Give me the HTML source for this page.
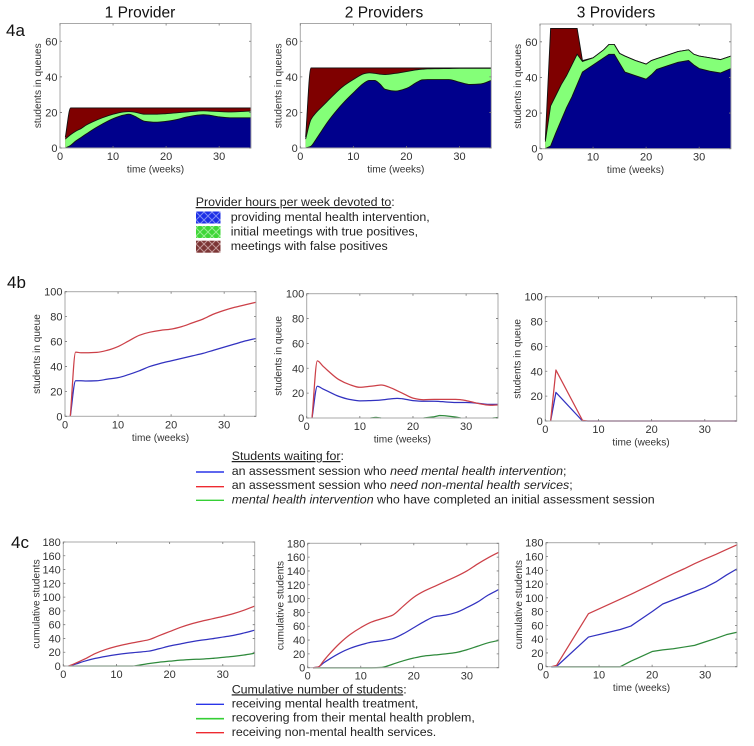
<!DOCTYPE html>
<html lang="en">
<head>
<meta charset="utf-8">
<title>Provider queue simulation charts</title>
<style>
html,body{margin:0;padding:0;background:#fff;width:754px;height:746px;overflow:hidden}
svg{display:block;filter:blur(0.35px)}
text{font-family:"Liberation Sans",sans-serif;fill:#2c2c2c}
.tick{font-size:11px;fill:#333}
.axis-title{font-size:10.1px;fill:#333}
.title{font-size:15.5px;fill:#111}
.section{font-size:17px;fill:#111}
.legend{font-size:12.4px;fill:#222}
</style>
</head>
<body>
<svg id="figure" xmlns="http://www.w3.org/2000/svg" width="754" height="746" viewBox="0 0 754 746">
<defs>
<pattern id="hatch-blue" width="8" height="8" patternUnits="userSpaceOnUse"><rect width="8" height="8" fill="#1c2fe6"/><path d="M0 0L8 8M8 0L0 8" stroke="#7f8cf5" stroke-width="1"/></pattern>
<pattern id="hatch-green" width="8" height="8" patternUnits="userSpaceOnUse"><rect width="8" height="8" fill="#3fd638"/><path d="M0 0L8 8M8 0L0 8" stroke="#98ee90" stroke-width="1"/></pattern>
<pattern id="hatch-maroon" width="8" height="8" patternUnits="userSpaceOnUse"><rect width="8" height="8" fill="#7c3636"/><path d="M0 0L8 8M8 0L0 8" stroke="#c49a9a" stroke-width="1"/></pattern>
</defs>
<rect width="754" height="746" fill="#fff"/>

<text class="title" x="140" y="17.5" text-anchor="middle">1 Provider</text>
<text class="title" x="384" y="17.5" text-anchor="middle">2 Providers</text>
<text class="title" x="616" y="17.5" text-anchor="middle">3 Providers</text>

<text class="section" x="6" y="36">4a</text>
<text class="section" x="7" y="288">4b</text>
<text class="section" x="11" y="548">4c</text>

<g>
<text class="legend" x="195.7" y="206"><tspan text-decoration="underline">Provider hours per week devoted to</tspan>:</text>
<g><rect x="196" y="211.5" width="24.5" height="12" fill="url(#hatch-blue)"/><text class="legend" x="230.7" y="221">providing mental health intervention,</text></g>
<g><rect x="196" y="226" width="24.5" height="12" fill="url(#hatch-green)"/><text class="legend" x="230.7" y="235.5">initial meetings with true positives,</text></g>
<g><rect x="196" y="240.7" width="24.5" height="12" fill="url(#hatch-maroon)"/><text class="legend" x="230.7" y="250">meetings with false positives</text></g>
</g>

<g>
<text class="legend" x="231.7" y="460"><tspan text-decoration="underline">Students waiting for</tspan>:</text>
<g><line x1="196" x2="224" y1="472" y2="472" stroke="#2a35e8" stroke-width="1.4"/><text class="legend" x="231.7" y="475">an assessment session who <tspan font-style="italic">need mental health intervention</tspan>;</text></g>
<g><line x1="196" x2="224" y1="486.7" y2="486.7" stroke="#ee2a30" stroke-width="1.4"/><text class="legend" x="231.7" y="489">an assessment session who <tspan font-style="italic">need non-mental health services</tspan>;</text></g>
<g><line x1="196" x2="224" y1="500.3" y2="500.3" stroke="#35cf35" stroke-width="1.4"/><text class="legend" x="231.7" y="503.5"><tspan font-style="italic">mental health intervention</tspan> who have completed an initial assessment session</text></g>
</g>

<g>
<text class="legend" x="231.7" y="693.3"><tspan text-decoration="underline">Cumulative number of students</tspan>:</text>
<g><line x1="196" x2="224" y1="704.3" y2="704.3" stroke="#2a35e8" stroke-width="1.4"/><text class="legend" x="231.7" y="707.7">receiving mental health treatment,</text></g>
<g><line x1="196" x2="224" y1="718.7" y2="718.7" stroke="#35cf35" stroke-width="1.6"/><text class="legend" x="231.7" y="721.7">recovering from their mental health problem,</text></g>
<g><line x1="196" x2="224" y1="732.7" y2="732.7" stroke="#ee2a30" stroke-width="1.4"/><text class="legend" x="231.7" y="736">receiving non-mental health services.</text></g>
</g>
</svg>

<script>
// ---- Shared axis tick labels ----
const xTicks = [0, 10, 20, 30];
const yTicksA = [0, 20, 40, 60];
const yTicksB = [0, 20, 40, 60, 80, 100];
const yTicksC = [0, 20, 40, 60, 80, 100, 120, 140, 160, 180];

// ---- 4a: stacked queue boundaries (weeks + upper edge of each band) ----
const a1Weeks = [1, 2, 3, 4, 5, 6, 8, 10, 12, 13, 14, 16, 18, 20, 22, 24, 26, 27, 28, 30, 32, 34, 36];
const a1Intervention = [0, 1.5, 4, 6, 8, 10, 13.5, 16.5, 18.5, 19, 18, 15, 14.5, 15, 16, 17.5, 18.5, 18.7, 18.5, 17.5, 17, 17, 17];
const a1TruePositive = [5, 7.5, 9.5, 11, 13, 14.5, 17, 19, 20.3, 20.5, 20.2, 19, 19, 19.3, 19.8, 20.3, 20.8, 20.9, 20.8, 20.5, 20.3, 20.5, 20.8];
const a1FalsePositive = [6, 22.5, 22.5, 22.5, 22.5, 22.5, 22.5, 22.5, 22.5, 22.5, 22.5, 22.5, 22.5, 22.5, 22.5, 22.5, 22.5, 22.5, 22.5, 22.5, 22.5, 22.5, 22.5];

const a2Weeks = [1, 2, 3, 4, 5, 6, 8, 10, 12, 13, 14, 15, 16, 18, 20, 22, 23, 24, 26, 28, 30, 32, 34, 36];
const a2Intervention = [0, 1, 5, 9.5, 14, 18, 25, 31, 36.5, 38, 38, 36, 33, 32, 33.5, 37, 38.3, 38.5, 38.5, 38.5, 37, 35.7, 36, 38];
const a2TruePositive = [5, 16, 20, 23, 26, 29, 34.5, 38.5, 41.8, 42.3, 42, 41.5, 41.3, 42, 43, 44, 44.3, 44.5, 44.6, 44.7, 44.8, 44.8, 44.8, 44.8];
const a2FalsePositive = [6, 45, 45, 45, 45, 45, 45, 45, 45, 45, 45, 45, 45, 45, 45, 45, 45, 45, 45, 45, 45, 45, 45, 45];

const a3Weeks = [1, 2, 3, 4, 5, 6, 7, 8, 10, 12, 13, 14, 15, 16, 18, 20, 21, 22, 24, 26, 28, 29, 30, 32, 34, 36];
const a3Intervention = [0, 1.5, 9, 16, 23, 29, 36, 43, 47, 51, 53, 53, 48, 43, 41, 39, 41.5, 44.5, 46.5, 48.5, 49.5, 47, 45, 43.5, 42.5, 45];
const a3TruePositive = [4, 24, 30, 36, 41, 47, 53, 49, 51, 55.5, 58.5, 58.5, 53.5, 52, 49.5, 47.5, 49.5, 50.5, 52.5, 54.5, 55.5, 53, 52, 51, 50, 52];
const a3FalsePositive = [5, 67.5, 67.5, 67.5, 67.5, 67.5, 67.5, 49.5, 51, 55.5, 58.5, 58.5, 53.5, 52, 49.5, 47.5, 49.5, 50.5, 52.5, 54.5, 55.5, 53, 52, 51, 50, 52];

// ---- 4b: students in queue ----
const b1Weeks = [1, 2, 3, 4, 6, 8, 10, 12, 14, 16, 18, 20, 22, 24, 26, 28, 30, 32, 34, 36];
const b1Green = [0, 0, 0, 0, 0, 0, 0, 0, 0, 0, 0, 0, 0, 0, 0, 0, 0, 0, 0, 0];
const b1Blue = [0, 28.5, 28.5, 28.3, 28.5, 29.8, 31, 33.5, 36.5, 40, 42.5, 44.5, 46.5, 48.5, 50.5, 53, 55.5, 58, 60.5, 62.5];
const b1Red = [0, 51.5, 51, 51, 51.3, 53, 56, 60.5, 65, 67.5, 69, 70, 72, 75, 78, 82, 85, 87.5, 89.5, 91.5];

const b2Weeks = [1, 2, 3, 4, 6, 8, 10, 12, 13, 14, 16, 17, 18, 20, 22, 24, 25, 26, 28, 29, 30, 32, 34, 35, 36];
const b2Green = [0, 0, 0, 0, 0, 0, 0, 0, 0.5, 0, 0, 0, 0, 0, 0, 1, 2, 1.8, 0.8, 0, 0, 0, 0, 0, 0.4];
const b2Blue = [0, 25.5, 23.5, 21.5, 17.5, 15, 13.8, 14, 14.2, 14.5, 15.5, 15.8, 15.5, 14, 13.5, 13.5, 13.3, 13, 12.5, 12.5, 12.5, 12, 11, 11, 11];
const b2Red = [0, 46, 42, 38, 31, 27, 24.7, 25.5, 26, 26.5, 24, 22, 20, 16, 14.7, 15, 15, 15, 15, 14.7, 14, 12, 10.5, 10.3, 10.5];

const b3Weeks = [1, 2, 7, 8, 36];
const b3Green = [0, 0, 0, 0, 0];
const b3Blue = [0, 23, 0, 0, 0];
const b3Red = [0, 41, 0.5, 0, 0];

// ---- 4c: cumulative students ----
const c1Weeks = [1, 2, 4, 6, 8, 10, 12, 13, 14, 16, 18, 20, 22, 24, 26, 28, 30, 32, 34, 36];
const c1Green = [0, 0, 0, 0, 0, 0, 0, 0, 1, 3.5, 5.5, 7, 8.5, 9.5, 10, 11, 12.5, 14, 16, 18.5];
const c1Blue = [0, 2, 7, 11, 14, 16.5, 18.5, 19.3, 20, 21.5, 25, 29, 32, 35, 37.5, 39.5, 42, 44.5, 48, 52];
const c1Red = [0, 3, 10, 18, 24, 28.5, 32, 33.5, 35, 38, 44, 50, 56, 61, 65, 68.5, 72, 76, 81, 87];

const c2Weeks = [1, 2, 3, 4, 6, 8, 10, 12, 14, 16, 18, 20, 22, 24, 26, 28, 30, 32, 34, 36];
const c2Green = [0, 0, 0, 0, 0, 0, 0, 0, 0.5, 5, 10, 14, 17, 18.5, 20, 22, 26, 31, 36, 39.5];
const c2Blue = [0, 1, 7, 12, 21, 28, 33, 37, 39, 42, 49, 58, 67, 74, 76, 80, 87, 95, 105, 113];
const c2Red = [0, 1, 10, 19, 35, 48, 58, 66, 71, 76, 89, 102, 111, 118, 125, 132, 140, 150, 159, 167];

const c3Weeks = [1, 2, 8, 14, 16, 20, 22, 24, 26, 28, 30, 32, 34, 36];
const c3Green = [0, 0, 0, 0, 8, 22, 24.5, 26, 28.5, 31, 36, 41, 46.5, 50];
const c3Blue = [0, 0.5, 43, 54, 59, 80, 91, 97, 103, 109, 115, 123, 133, 142];
const c3Red = [0, 2, 77, 98, 105, 120, 127.5, 135, 142, 149.5, 156.5, 163, 170, 177];

const SVG_NS = 'http://www.w3.org/2000/svg';
const figure = document.getElementById('figure');

function make(parent, tag, attrs, content) {
  const node = document.createElementNS(SVG_NS, tag);
  for (const key in attrs) node.setAttribute(key, attrs[key]);
  if (content !== undefined) node.textContent = content;
  parent.appendChild(node);
  return node;
}

// Build an SVG path through the points; smooth=true uses a monotone cubic.
function tracePath(xs, ys, smooth) {
  let d = 'M' + xs[0] + ' ' + ys[0];
  if (!smooth) {
    for (let i = 1; i < xs.length; i++) d += 'L' + xs[i] + ' ' + ys[i];
    return d;
  }
  const slopes = [];
  for (let i = 0; i < xs.length - 1; i++) slopes.push((ys[i + 1] - ys[i]) / (xs[i + 1] - xs[i]));
  const tangents = xs.map((_, i) => {
    if (i === 0) return slopes[0];
    if (i === xs.length - 1) return slopes[i - 1];
    const a = slopes[i - 1], b = slopes[i];
    return a * b <= 0 ? 0 : 2 * a * b / (a + b);
  });
  for (let i = 0; i < xs.length - 1; i++) {
    const h = (xs[i + 1] - xs[i]) / 3;
    d += 'C' + (xs[i] + h) + ' ' + (ys[i] + tangents[i] * h) + ' ' +
      (xs[i + 1] - h) + ' ' + (ys[i + 1] - tangents[i + 1] * h) + ' ' + xs[i + 1] + ' ' + ys[i + 1];
  }
  return d;
}

function drawAxes(panel, yMax, yTicks, yTitle, hasXTitle) {
  const xScale = v => panel.left + (v / 36) * (panel.right - panel.left);
  const yScale = v => panel.bottom - (v / yMax) * (panel.bottom - panel.top);
  const g = make(figure, 'g', {});
  
  
  panel.marks(g, xScale, yScale);

  const frame = make(g, 'rect', {
    x: panel.left, y: panel.top, width: panel.right - panel.left, height: panel.bottom - panel.top,
    fill: 'none', stroke: '#a8a8a8', 'stroke-width': 1
  });
  
  

  xTicks.forEach(t => {
    const px = xScale(t);
    const mark = make(g, 'path', {
      d: 'M' + px + ' ' + panel.bottom + 'v-2M' + px + ' ' + panel.top + 'v2',
      stroke: '#777', 'stroke-width': 0.8, fill: 'none'
    });
    
    
    const label = make(g, 'text', { class: 'tick', x: px, y: panel.bottom + 12, 'text-anchor': 'middle' }, String(t));
    
    
  });
  yTicks.forEach(t => {
    const py = yScale(t);
    const mark = make(g, 'path', {
      d: 'M' + panel.left + ' ' + py + 'h2M' + panel.right + ' ' + py + 'h-2',
      stroke: '#777', 'stroke-width': 0.8, fill: 'none'
    });
    
    
    const label = make(g, 'text', { class: 'tick', x: panel.left - 2.5, y: py + 4, 'text-anchor': 'end' }, String(t));
    
    
  });

  const midY = (panel.top + panel.bottom) / 2;
  const titleX = panel.left - panel.titleOffset;
  const yLabel = make(g, 'text', {
    class: 'axis-title', x: titleX, y: midY, 'text-anchor': 'middle',
    transform: 'rotate(-90 ' + titleX + ' ' + midY + ')'
  }, yTitle);
  
  

  if (hasXTitle) {
    const xLabel = make(g, 'text', {
      class: 'axis-title', x: (panel.left + panel.right) / 2, y: panel.bottom + 24.5, 'text-anchor': 'middle'
    }, 'time (weeks)');
    
    
  }
}

function stackedMarks(weeks, bands, smooth) {
  return function (g, xScale, yScale) {
    const xs = weeks.map(xScale);
    bands.forEach(band => {
      const top = tracePath(xs, band.values.map(yScale), smooth);
      const base = 'L' + xs[xs.length - 1] + ' ' + yScale(0) + 'L' + xs[0] + ' ' + yScale(0) + 'Z';
      const area = make(g, 'path', { d: top + base, fill: band.color });
      
      
      const edge = make(g, 'path', { d: top, fill: 'none', stroke: '#111', 'stroke-width': 0.9 });
      
      
    });
  };
}

function lineMarks(weeks, series, smooth) {
  return function (g, xScale, yScale) {
    const xs = weeks.map(xScale);
    series.forEach(s => {
      let d = '';
      if (s.skipZero) {
        for (let i = 0; i < weeks.length - 1; i++) {
          if (s.values[i] > 0 || s.values[i + 1] > 0) {
            d += 'M' + xs[i] + ' ' + yScale(s.values[i]) + 'L' + xs[i + 1] + ' ' + yScale(s.values[i + 1]);
          }
        }
      } else {
        d = tracePath(xs, s.values.map(yScale), smooth);
      }
      const line = make(g, 'path', {
        d: d, fill: 'none', stroke: s.color, 'stroke-width': 1.25, 'stroke-linejoin': 'round'
      });
      
      
    });
  };
}

const MAROON = '#7f0000', LIGHT_GREEN = '#84ff78', NAVY = '#00008c';
const LINE_BLUE = '#3232c0', LINE_RED = '#cc4048', LINE_GREEN = '#2f8a3c';

function areaBands(intervention, truePositive, falsePositive) {
  return [
    { name: 'false-positives', values: falsePositive, color: MAROON },
    { name: 'true-positives', values: truePositive, color: LIGHT_GREEN },
    { name: 'intervention', values: intervention, color: NAVY }
  ];
}

function waitSeries(green, blue, red) {
  return [
    { name: 'intervention-wait', values: green, color: LINE_GREEN, skipZero: true },
    { name: 'need-intervention', values: blue, color: LINE_BLUE },
    { name: 'need-non-mental', values: red, color: LINE_RED }
  ];
}

function cumulativeSeries(green, blue, red) {
  return [
    { name: 'recovering', values: green, color: LINE_GREEN },
    { name: 'receiving-treatment', values: blue, color: LINE_BLUE },
    { name: 'non-mental-services', values: red, color: LINE_RED }
  ];
}

drawAxes({ name: 'chart-4a-1-provider', left: 60, right: 251, top: 23.5, bottom: 148, titleOffset: 19, marks: stackedMarks(a1Weeks, areaBands(a1Intervention, a1TruePositive, a1FalsePositive), true) }, 70, yTicksA, 'students in queues', true);
drawAxes({ name: 'chart-4a-2-providers', left: 300.3, right: 491.3, top: 23.5, bottom: 148, titleOffset: 19, marks: stackedMarks(a2Weeks, areaBands(a2Intervention, a2TruePositive, a2FalsePositive), true) }, 70, yTicksA, 'students in queues', true);
drawAxes({ name: 'chart-4a-3-providers', left: 540, right: 731, top: 24, bottom: 148.7, titleOffset: 19, marks: stackedMarks(a3Weeks, areaBands(a3Intervention, a3TruePositive, a3FalsePositive), false) }, 70, yTicksA, 'students in queues', true);

drawAxes({ name: 'chart-4b-1-provider', left: 65, right: 256, top: 291.7, bottom: 416.3, titleOffset: 25, marks: lineMarks(b1Weeks, waitSeries(b1Green, b1Blue, b1Red), true) }, 100, yTicksB, 'students in queue', true);
drawAxes({ name: 'chart-4b-2-providers', left: 306.7, right: 498, top: 293.7, bottom: 418, titleOffset: 25, marks: lineMarks(b2Weeks, waitSeries(b2Green, b2Blue, b2Red), true) }, 100, yTicksB, 'students in queue', true);
drawAxes({ name: 'chart-4b-3-providers', left: 545.3, right: 736.7, top: 296.7, bottom: 421, titleOffset: 25, marks: lineMarks(b3Weeks, waitSeries(b3Green, b3Blue, b3Red), false) }, 100, yTicksB, 'students in queue', true);

drawAxes({ name: 'chart-4c-1-provider', left: 63.3, right: 254.7, top: 542, bottom: 666, titleOffset: 24, marks: lineMarks(c1Weeks, cumulativeSeries(c1Green, c1Blue, c1Red), true) }, 180, yTicksC, 'cumulative students', false);
drawAxes({ name: 'chart-4c-2-providers', left: 307.7, right: 498.7, top: 543.3, bottom: 667.7, titleOffset: 24, marks: lineMarks(c2Weeks, cumulativeSeries(c2Green, c2Blue, c2Red), true) }, 180, yTicksC, 'cumulative students', false);
drawAxes({ name: 'chart-4c-3-providers', left: 546, right: 737, top: 542.7, bottom: 666.7, titleOffset: 24, marks: lineMarks(c3Weeks, cumulativeSeries(c3Green, c3Blue, c3Red), false) }, 180, yTicksC, 'cumulative students', true);
</script>
</body>
</html>
